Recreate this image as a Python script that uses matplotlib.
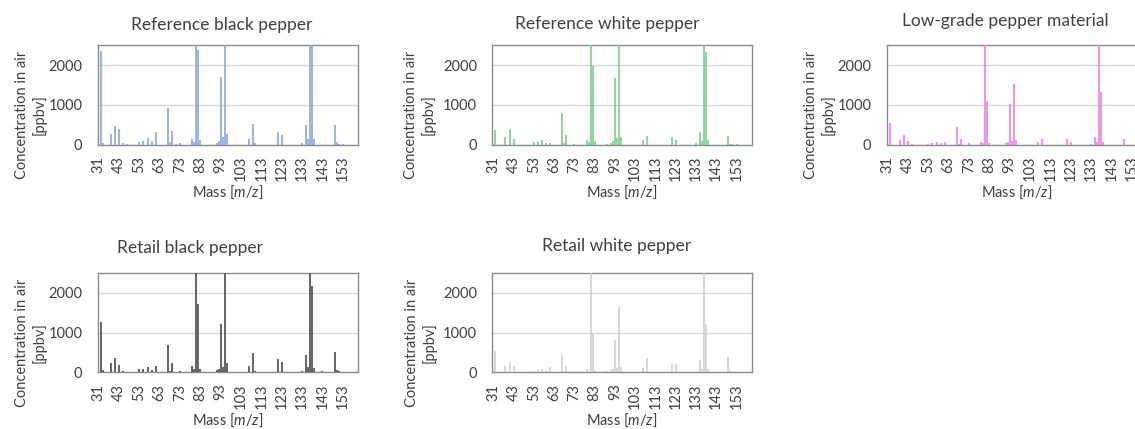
"""
PTR-MS headspace spectra of pepper samples, 5 panels.
"""
import matplotlib
matplotlib.use("Agg")
import matplotlib.pyplot as plt
import numpy as np

# category axis: m/z 32 and 37 are not in the scan list
MASSES = [31, 33, 34, 35, 36, 38, 39, 40, 41, 42] + list(range(43, 161))

PEAK_MZ = [33, 34, 39, 41, 43, 45, 47, 53, 55, 57, 59, 61, 67, 68, 69, 71,
           73, 75, 79, 80, 81, 82, 83, 89, 91, 92, 93, 94, 95, 96, 107, 109,
           110, 121, 123, 133, 135, 136, 137, 138, 139, 143, 149, 150, 151, 153]

# ppbv, off-scale peaks (> 2500) entered as 2600
REF_BLACK = [2345, 40, 260, 470, 385, 35, 15, 75, 100, 170, 90, 320, 930, 60, 345, 25,
             35, 0, 150, 75, 2600, 2390, 115, 0, 50, 90, 1715, 190, 2600, 270, 150, 520,
             40, 310, 255, 40, 500, 135, 2600, 2600, 140, 0, 495, 60, 25, 15]
REF_WHITE = [370, 0, 200, 385, 135, 0, 0, 60, 65, 125, 40, 40, 790, 40, 250, 0,
             30, 0, 115, 65, 2600, 1990, 85, 25, 50, 85, 1690, 180, 2600, 200, 115, 220,
             0, 185, 115, 50, 310, 100, 2600, 2335, 125, 0, 220, 30, 20, 15]
LOW_GRADE = [540, 0, 125, 235, 100, 15, 0, 30, 35, 75, 35, 60, 440, 20, 140, 0,
             50, 0, 65, 45, 2600, 1100, 40, 0, 35, 60, 1015, 100, 1520, 115, 65, 135,
             0, 135, 65, 20, 190, 75, 2600, 1335, 65, 0, 135, 0, 0, 0]
RETAIL_BLACK = [1260, 65, 235, 360, 175, 25, 15, 75, 75, 125, 65, 150, 690, 35, 235, 0,
                35, 0, 170, 85, 2600, 1715, 90, 0, 50, 85, 1210, 135, 2600, 235, 160, 490,
                40, 335, 250, 35, 445, 135, 2600, 2175, 110, 25, 510, 60, 35, 15]
RETAIL_WHITE = [530, 0, 160, 250, 150, 0, 0, 40, 65, 90, 50, 135, 430, 0, 170, 0,
                40, 40, 85, 40, 2600, 965, 65, 35, 50, 75, 805, 120, 1645, 135, 110, 360,
                0, 210, 210, 0, 310, 90, 2600, 1210, 75, 0, 385, 60, 0, 0]

TITLES = ["Reference black pepper", "Reference white pepper", "Low-grade pepper material",
          "Retail black pepper", "Retail white pepper"]
SERIES = [REF_BLACK, REF_WHITE, LOW_GRADE, RETAIL_BLACK, RETAIL_WHITE]
COLORS = ["#8ba5dc", "#7fcc8e", "#ea82ea", "#4a4a4a", "#cfcfcf"]

W, H = 1135, 429
# axes boxes in pixels: left, top, width, height
BOXES = [(97.7, 45.3, 260.3, 99.4), (492.3, 45.3, 259.4, 99.4), (886.7, 45.3, 260.3, 99.4),
         (97.7, 273.0, 260.3, 99.4), (492.3, 273.0, 259.4, 99.4)]
TITLE_POS = [(222, 25), (607, 24), (1005, 21), (190, 248), (617, 246)]
YLAB_X = [31, 420, 820, 31, 421]

TXT = "#404040"
plt.rcParams["font.family"] = ["Lato", "DejaVu Sans"]
plt.rcParams["mathtext.fontset"] = "custom"
plt.rcParams["mathtext.rm"] = "Lato"
plt.rcParams["mathtext.it"] = "Lato:italic"


def full_spectrum(values):
    lookup = dict(zip(PEAK_MZ, values))
    return np.array([lookup.get(m, 0) for m in MASSES], dtype=float)


fig = plt.figure(figsize=(W / 100, H / 100), dpi=100)
x = np.arange(len(MASSES))

for k in range(5):
    l, t, w, h = BOXES[k]
    ax = fig.add_axes([l / W, 1 - (t + h) / H, w / W, h / H])
    # thin bars, the Excel chart uses a huge gap width
    ax.vlines(x, 0, full_spectrum(SERIES[k]), color=COLORS[k], linewidth=1.2, zorder=3)
    ax.set_xlim(-0.5, len(MASSES) - 0.5)
    ax.set_ylim(0, 2500)
    ax.set_yticks([0, 1000, 2000])
    ax.set_xticks(x[::10])
    ax.set_xticklabels([str(m) for m in MASSES[::10]], rotation=90)
    ax.tick_params(length=0, labelsize=10.5, colors=TXT)
    ax.tick_params(axis="y", pad=11)
    ax.tick_params(axis="x", pad=8)
    ax.grid(axis="y", color="#d9d9d9", linewidth=1, zorder=0)
    for s in ax.spines.values():
        s.set_color("#8c8c8c")
        s.set_linewidth(1)
    ax.set_xlabel("Mass [$\\mathit{m/z}$]", fontsize=10.5, color=TXT, labelpad=2)

    tx, ty = TITLE_POS[k]
    fig.text(tx / W, 1 - ty / H, TITLES[k], ha="center", va="center", fontsize=12.5, color=TXT)
    fig.text(YLAB_X[k] / W, 1 - (t + h / 2 + 20) / H, "Concentration in air\n[ppbv]",
             rotation=90, ha="center", va="center", fontsize=10.5, color=TXT, linespacing=1.2)

fig.savefig("out.png", dpi=100)
